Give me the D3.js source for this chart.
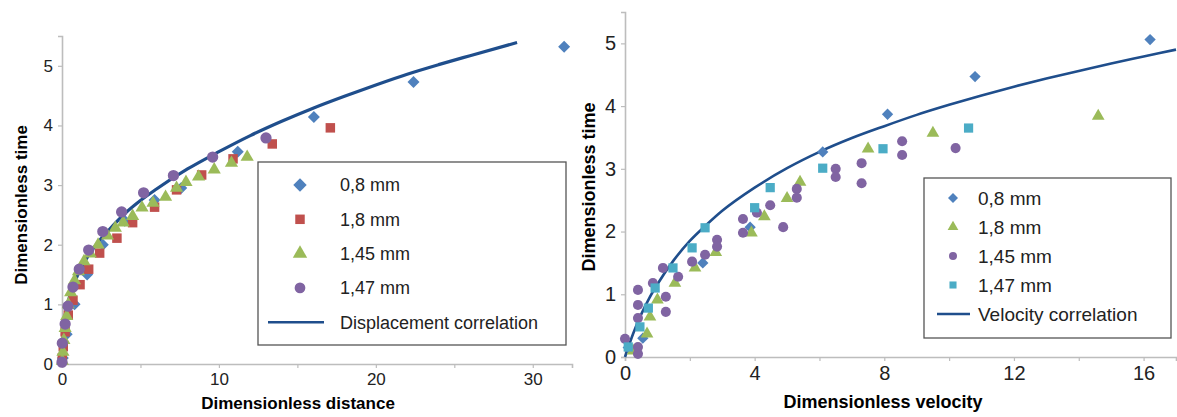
<!DOCTYPE html>
<html>
<head>
<meta charset="utf-8">
<script src="https://cdn.jsdelivr.net/npm/d3@7"></script>
<style>
  html, body { margin: 0; padding: 0; background: #fff; }
  svg { display: block; font-family: "Liberation Sans", Arial, sans-serif; }
</style>
</head>
<body>
<div id="chart"></div>
<script>
// ---- left panel: dimensionless time vs dimensionless distance ----
const leftBlueX   = [0.05, 0.3, 0.8, 1.6, 2.6, 4.0, 5.9, 7.6, 11.2, 16.05, 22.4, 32.0];
const leftBlueY   = [0.1, 0.5, 1.0, 1.5, 2.0, 2.4, 2.75, 2.95, 3.56, 4.14, 4.73, 5.32];
const leftRedX    = [0.02, 0.08, 0.2, 0.4, 0.7, 1.15, 1.7, 2.4, 3.5, 4.5, 5.9, 7.3, 8.9, 10.9, 13.4, 17.1];
const leftRedY    = [0.1, 0.29, 0.54, 0.82, 1.07, 1.33, 1.59, 1.86, 2.11, 2.37, 2.63, 2.92, 3.17, 3.44, 3.69, 3.96];
const leftGreenX  = [0.02, 0.06, 0.12, 0.2, 0.3, 0.4, 0.55, 0.8, 1.05, 1.4, 1.8, 2.3, 2.9, 3.4, 3.9, 4.5, 5.1, 5.8, 6.6, 7.3, 7.9, 8.7, 9.7, 10.8, 11.8];
const leftGreenY  = [0.05, 0.2, 0.4, 0.6, 0.8, 1.0, 1.2, 1.4, 1.55, 1.72, 1.85, 2.0, 2.15, 2.28, 2.37, 2.48, 2.62, 2.7, 2.8, 2.95, 3.05, 3.14, 3.26, 3.37, 3.47];
const leftPurpleX = [0, 0.02, 0.2, 0.38, 0.7, 1.1, 1.7, 2.6, 3.8, 5.2, 7.1, 9.6, 13.0];
const leftPurpleY = [0.03, 0.35, 0.67, 0.97, 1.29, 1.59, 1.91, 2.22, 2.55, 2.87, 3.16, 3.47, 3.79];
const leftCurveX  = [0, 0.1, 0.3, 0.6, 1, 1.5, 2, 3, 4, 5, 6, 8, 10, 12, 14, 16, 18, 20, 22, 24, 26, 29];
const leftCurveY  = [0, 0.62, 0.94, 1.23, 1.49, 1.74, 1.94, 2.25, 2.52, 2.74, 2.93, 3.27, 3.56, 3.83, 4.07, 4.29, 4.49, 4.68, 4.86, 5.02, 5.17, 5.39];
const leftLabels  = ["0,8 mm", "1,8 mm", "1,45 mm", "1,47 mm", "Displacement correlation"];

// ---- right panel: dimensionless time vs dimensionless velocity ----
const rightBlueX   = [0.1, 0.55, 2.4, 3.86, 6.1, 8.1, 10.8, 16.2];
const rightBlueY   = [0.15, 0.3, 1.5, 2.07, 3.27, 3.87, 4.47, 5.06];
const rightGreenX  = [0.25, 0.68, 0.77, 1.0, 1.54, 2.16, 2.8, 3.9, 4.3, 5.0, 5.4, 7.5, 9.5, 14.6];
const rightGreenY  = [0.1, 0.37, 0.64, 0.91, 1.18, 1.42, 1.67, 1.98, 2.24, 2.53, 2.79, 3.32, 3.57, 3.84];
const rightPurpleX = [0, 0.4, 0.4, 0.4, 0.4, 0.4, 0.86, 1.17, 1.26, 1.26, 1.64, 2.07, 2.47, 2.84, 2.84, 3.64, 3.64, 4.07, 4.48, 4.88, 5.3, 5.3, 6.5, 6.5, 7.3, 7.3, 8.55, 8.55, 10.2];
const rightPurpleY = [0.29, 0.05, 0.16, 0.62, 0.83, 1.07, 1.18, 1.42, 0.96, 0.72, 1.28, 1.52, 1.63, 1.87, 1.76, 2.2, 1.98, 2.3, 2.42, 2.07, 2.68, 2.54, 3.0, 2.87, 3.09, 2.77, 3.44, 3.22, 3.33];
const rightCyanX   = [0.1, 0.46, 0.72, 0.93, 1.48, 2.07, 2.47, 4.0, 4.48, 6.1, 7.96, 10.6];
const rightCyanY   = [0.16, 0.48, 0.78, 1.1, 1.42, 1.74, 2.06, 2.38, 2.7, 3.01, 3.32, 3.65];
const rightCurveX  = [0, 0.25, 0.5, 0.75, 1, 1.5, 2, 2.5, 3, 4, 5, 6, 7, 8, 9, 10, 11, 12, 13, 14, 15, 16, 17];
const rightCurveY  = [0, 0.37, 0.68, 0.94, 1.16, 1.54, 1.85, 2.1, 2.33, 2.7, 3.01, 3.27, 3.49, 3.68, 3.86, 4.02, 4.17, 4.31, 4.44, 4.56, 4.68, 4.79, 4.9];
const rightLabels  = ["0,8 mm", "1,8 mm", "1,45 mm", "1,47 mm", "Velocity correlation"];

const timeTicks = [0, 1, 2, 3, 4, 5];
const distTicks = [0, 5, 10, 15, 20, 25, 30];
const velTicks  = [0, 2, 4, 6, 8, 10, 12, 14, 16];

const BLUE = "#4F81BD", RED = "#C0504D", GREEN = "#9BBB59", PURPLE = "#8064A2", CYAN = "#4BACC6", LINE = "#1F4E8C";
const AXIS = "#bdbdbd";

const zip = (xs, ys) => xs.map((x, i) => ({ x, y: ys[i] }));

const svg = d3.select("#chart").append("svg")
  .attr("width", 1177)
  .attr("height", 417);

function symbolPath(type, size) {
  if (type === "diamond" || type === "square") return d3.symbol().type(d3.symbolSquare).size(size)();
  if (type === "triangle") return d3.symbol().type(d3.symbolTriangle).size(size)();
  return d3.symbol().type(d3.symbolCircle).size(size)();
}

function drawPanel(cfg) {
  const g = svg.append("g");
  const x = d3.scaleLinear().domain(cfg.xDomain).range(cfg.xRange);
  const y = d3.scaleLinear().domain([0, 5.5]).range(cfg.yRange);

  // axes
  const xAxis = g.append("g")
    .attr("transform", `translate(0,${cfg.yRange[0]})`)
    .call(d3.axisBottom(x).tickValues(cfg.xTicks).tickSize(4).tickPadding(5)
      .tickFormat(d => d % cfg.xLabelEvery === 0 ? String(d) : ""));
  const yAxis = g.append("g")
    .attr("transform", `translate(${cfg.xRange[0]},0)`)
    .call(d3.axisLeft(y).tickValues(timeTicks).tickSize(4).tickPadding(5)
      .tickFormat(d3.format("d")));
  [xAxis, yAxis].forEach(a => {
    a.select(".domain").attr("stroke", AXIS).attr("stroke-width", 1.6);
    a.selectAll(".tick line").attr("stroke", AXIS).attr("stroke-width", 1.2);
    a.selectAll("text").attr("fill", "#222").style("font-size", cfg.tickFont + "px");
  });

  // correlation curve
  const line = d3.line().x(d => x(d.x)).y(d => y(d.y)).curve(d3.curveMonotoneX);
  g.append("path")
    .datum(zip(cfg.curveX, cfg.curveY))
    .attr("fill", "none")
    .attr("stroke", LINE)
    .attr("stroke-width", cfg.lineWidth)
    .attr("d", line);

  // marker series
  cfg.series.forEach(s => {
    g.append("g").selectAll("path")
      .data(zip(s.xs, s.ys))
      .join("path")
      .attr("d", symbolPath(s.type, s.size))
      .attr("fill", s.color)
      .attr("transform", d => `translate(${x(d.x)},${y(d.y)})` + (s.type === "diamond" ? " rotate(45)" : ""));
  });

  // axis titles
  g.append("text")
    .attr("x", cfg.xTitlePos[0])
    .attr("y", cfg.xTitlePos[1])
    .attr("text-anchor", "middle")
    .style("font-size", cfg.titleFont + "px")
    .style("font-weight", "bold")
    .text(cfg.xTitle);
  g.append("text")
    .attr("transform", `translate(${cfg.yTitlePos[0]},${cfg.yTitlePos[1]}) rotate(-90)`)
    .attr("text-anchor", "middle")
    .style("font-size", cfg.titleFont + "px")
    .style("font-weight", "bold")
    .text("Dimensionless time");

  // legend
  const lg = cfg.legend;
  g.append("rect")
    .attr("x", lg.x).attr("y", lg.y)
    .attr("width", lg.w).attr("height", lg.h)
    .attr("fill", "#fff")
    .attr("stroke", "#555")
    .attr("stroke-width", 1.3);
  cfg.labels.forEach((label, i) => {
    const cy = lg.firstY + i * lg.step;
    if (i < cfg.series.length) {
      const s = cfg.series[i];
      g.append("path")
        .attr("d", symbolPath(s.type, lg.markerSize))
        .attr("fill", s.color)
        .attr("transform", `translate(${lg.markerX},${cy})` + (s.type === "diamond" ? " rotate(45)" : ""));
    } else {
      g.append("line")
        .attr("x1", lg.lineX[0]).attr("x2", lg.lineX[1])
        .attr("y1", cy).attr("y2", cy)
        .attr("stroke", LINE).attr("stroke-width", 2.5);
    }
    g.append("text")
      .attr("x", lg.textX)
      .attr("y", cy)
      .attr("dy", "0.35em")
      .attr("fill", "#222")
      .style("font-size", lg.font + "px")
      .text(label);
  });
}

drawPanel({
  xDomain: [0, 32.5], xRange: [62, 572], yRange: [364, 36],
  xTicks: distTicks, xLabelEvery: 10, tickFont: 17, titleFont: 17, lineWidth: 3.2,
  curveX: leftCurveX, curveY: leftCurveY,
  series: [
    { xs: leftBlueX, ys: leftBlueY, color: BLUE, type: "diamond", size: 72 },
    { xs: leftRedX, ys: leftRedY, color: RED, type: "square", size: 90 },
    { xs: leftGreenX, ys: leftGreenY, color: GREEN, type: "triangle", size: 75 },
    { xs: leftPurpleX, ys: leftPurpleY, color: PURPLE, type: "circle", size: 100 }
  ],
  labels: leftLabels,
  xTitle: "Dimensionless distance", xTitlePos: [298, 409], yTitlePos: [27, 205],
  legend: { x: 258, y: 162, w: 308, h: 183, firstY: 185, step: 34.3, markerX: 300, markerSize: 90,
            textX: 340, lineX: [268, 324], font: 18 }
});

drawPanel({
  xDomain: [0, 17], xRange: [625, 1176], yRange: [357, 12],
  xTicks: velTicks, xLabelEvery: 4, tickFont: 20, titleFont: 18, lineWidth: 2.6,
  curveX: rightCurveX, curveY: rightCurveY,
  series: [
    { xs: rightBlueX, ys: rightBlueY, color: BLUE, type: "diamond", size: 64 },
    { xs: rightGreenX, ys: rightGreenY, color: GREEN, type: "triangle", size: 70 },
    { xs: rightPurpleX, ys: rightPurpleY, color: PURPLE, type: "circle", size: 80 },
    { xs: rightCyanX, ys: rightCyanY, color: CYAN, type: "square", size: 85 }
  ],
  labels: rightLabels,
  xTitle: "Dimensionless velocity", xTitlePos: [883, 408], yTitlePos: [595, 187],
  legend: { x: 924, y: 178, w: 247, h: 160, firstY: 198, step: 29, markerX: 953, markerSize: 50,
            textX: 978, lineX: [937, 970], font: 19 }
});
</script>
</body>
</html>
